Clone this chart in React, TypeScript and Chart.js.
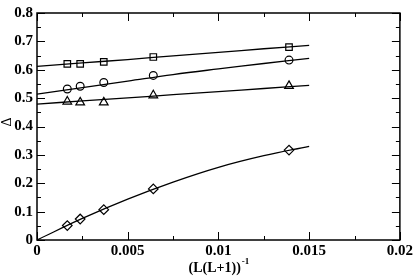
import React, { useEffect, useRef } from "react";
import { Chart, registerables } from "chart.js";

Chart.register(...registerables);

// Data (x = 1/(L(L+1)))
const xPoints = [0.00167, 0.00238, 0.00368, 0.00641, 0.01389];
const squareVals = [0.621, 0.621, 0.628, 0.645, 0.68];
const circleVals = [0.532, 0.542, 0.555, 0.58, 0.634];
const triangleVals = [0.488, 0.485, 0.485, 0.51, 0.543];
const diamondVals = [0.051, 0.074, 0.107, 0.18, 0.317];

// Fit curves
const fitX = [0, 0.0025, 0.005, 0.0075, 0.01, 0.0125, 0.015];
const squareFit = [0.612, 0.624, 0.636, 0.649, 0.661, 0.674, 0.686];
const circleFit = [0.514, 0.537, 0.56, 0.583, 0.603, 0.622, 0.64];
const triangleFit = [0.479, 0.49, 0.501, 0.512, 0.523, 0.534, 0.545];
const diamondFit = [0, 0.076, 0.144, 0.204, 0.256, 0.297, 0.33];

const xTickLabels = ["0", "0.005", "0.01", "0.015", "0.02"];
const yTickLabels = ["0", "0.1", "0.2", "0.3", "0.4", "0.5", "0.6", "0.7", "0.8"];

const FONT = "'Liberation Serif', 'Times New Roman', serif";

const framePlugin = {
  id: "frame",
  afterDraw(chart: any) {
    const { ctx, chartArea: a, scales } = chart;
    const xs = scales.x;
    const ys = scales.y;
    ctx.save();
    ctx.strokeStyle = "#000";
    ctx.lineWidth = 1.5;
    ctx.strokeRect(a.left, a.top, a.right - a.left, a.bottom - a.top);
    ctx.lineWidth = 1;
    ctx.beginPath();
    for (let v = 0; v <= 0.02 + 1e-9; v += 0.0025) {
      const px = Math.round(xs.getPixelForValue(v)) + 0.5;
      const major = Math.abs(v / 0.005 - Math.round(v / 0.005)) < 1e-6;
      const len = major ? 8 : 4;
      ctx.moveTo(px, a.bottom);
      ctx.lineTo(px, a.bottom - len);
      ctx.moveTo(px, a.top);
      ctx.lineTo(px, a.top + len);
    }
    for (let v = 0; v <= 0.8 + 1e-9; v += 0.05) {
      const py = Math.round(ys.getPixelForValue(v)) + 0.5;
      const major = Math.abs(v / 0.1 - Math.round(v / 0.1)) < 1e-6;
      const len = major ? 8 : 4;
      ctx.moveTo(a.left, py);
      ctx.lineTo(a.left + len, py);
      ctx.moveTo(a.right, py);
      ctx.lineTo(a.right - len, py);
    }
    ctx.stroke();

    // x-axis title with superscript
    ctx.fillStyle = "#000";
    ctx.font = "bold 14px " + FONT;
    const main = "(L(L+1))";
    const w = ctx.measureText(main).width;
    ctx.font = "bold 9px " + FONT;
    const sw = ctx.measureText("-1").width;
    const cx = (a.left + a.right) / 2;
    const startX = cx - (w + sw) / 2;
    ctx.textBaseline = "alphabetic";
    ctx.textAlign = "left";
    ctx.font = "bold 14px " + FONT;
    ctx.fillText(main, startX, 272);
    ctx.font = "bold 9px " + FONT;
    ctx.fillText("-1", startX + w + 1, 264);

    // y-axis title
    ctx.font = "14px " + FONT;
    ctx.translate(7, 122);
    ctx.rotate(-Math.PI / 2);
    ctx.textAlign = "center";
    ctx.textBaseline = "middle";
    ctx.fillText("\u0394", 0, 0);
    ctx.restore();
  },
};

function toXY(xv: number[], yv: number[]) {
  return xv.map((x, i) => ({ x, y: yv[i] }));
}

export default function App() {
  const ref = useRef<HTMLCanvasElement>(null);
  useEffect(() => {
    document.body.style.margin = "0";
    const fit = (d: number[]) => ({
      type: "line" as const,
      data: toXY(fitX, d),
      borderColor: "#000",
      borderWidth: 1.3,
      pointRadius: 0,
      tension: 0.4,
      fill: false,
    });
    const pts = (d: number[], style: string, r: number) => ({
      type: "line" as const,
      data: toXY(xPoints, d),
      showLine: false,
      pointStyle: style,
      pointRadius: r,
      pointBorderColor: "#000",
      pointBackgroundColor: "rgba(0,0,0,0)",
      pointBorderWidth: 1.2,
    });
    const chart = new Chart(ref.current!, {
      type: "line",
      data: {
        datasets: [
          fit(squareFit),
          fit(circleFit),
          fit(triangleFit),
          fit(diamondFit),
          pts(squareVals, "rect", 4.6),
          pts(circleVals, "circle", 3.9),
          pts(triangleVals, "triangle", 5),
          pts(diamondVals, "rectRot", 4.8),
        ] as any,
      },
      options: {
        animation: false,
        responsive: false,
        maintainAspectRatio: false,
        layout: { padding: { top: 5, right: 14, left: 0, bottom: 0 } },
        plugins: { legend: { display: false }, tooltip: { enabled: false } },
        scales: {
          x: {
            type: "linear",
            min: 0,
            max: 0.02,
            grid: { display: false, drawTicks: false },
            border: { display: false },
            ticks: {
              stepSize: 0.005,
              padding: 2,
              color: "#000",
              font: { family: FONT, size: 15, weight: "bold" },
              maxRotation: 0,
              callback: (_v: any, i: number) => xTickLabels[i],
            },
            afterFit: (s: any) => {
              s.height = 37;
            },
          },
          y: {
            type: "linear",
            min: 0,
            max: 0.8,
            grid: { display: false, drawTicks: false },
            border: { display: false },
            ticks: {
              stepSize: 0.1,
              padding: 4,
              color: "#000",
              font: { family: FONT, size: 15, weight: "bold" },
              callback: (_v: any, i: number) => yTickLabels[i],
            },
            afterFit: (s: any) => {
              s.width = 37;
            },
          },
        },
      } as any,
      plugins: [framePlugin],
    });
    return () => chart.destroy();
  }, []);
  return (
    <div style={{ position: "absolute", left: 0, top: 0, width: 415, height: 277, background: "#fff" }}>
      <canvas ref={ref} width={415} height={277} style={{ width: 415, height: 277 }} />
    </div>
  );
}
